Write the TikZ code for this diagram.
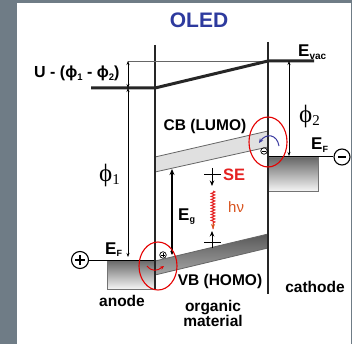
\documentclass[tikz,border=0pt]{standalone}
\usepackage{fontspec}
\setmainfont{Liberation Sans}
\newfontfamily\phifont{Liberation Serif}
\usetikzlibrary{decorations.pathmorphing,arrows.meta}
\definecolor{framegray}{HTML}{6F7C86}
\definecolor{oledblue}{HTML}{2D3A9E}
\definecolor{sered}{HTML}{E52222}
\definecolor{hnuorange}{HTML}{D9531E}
\definecolor{spinblue}{HTML}{3A3AA0}
\newcommand\sbs[2][9]{\raisebox{-2.5pt}{\fontsize{#1}{#1}\selectfont #2}}
\tikzset{
  lbl/.style={font=\bfseries\fontsize{15.5}{16}\selectfont, inner sep=0pt, anchor=base},
  elbl/.style={font=\bfseries\fontsize{17}{17}\selectfont, inner sep=0pt, anchor=base west},
  philbl/.style={font=\phifont\fontsize{25}{25}\selectfont, inner sep=0pt, anchor=base west},
  iface/.style={line width=1.4pt, black!85},
  vac/.style={line width=3pt, black!85},
  dimarr/.style={line width=0.7pt, {Stealth[length=4pt,width=3pt]}-{Stealth[length=4pt,width=3pt]}},
  ring/.style={draw=red!90!black, line width=1.1pt},
  charge/.style={draw, line width=0.7pt, circle, inner sep=0pt, minimum size=6.5pt},
  bigcharge/.style={draw, line width=1.1pt, circle, inner sep=0pt, minimum size=17pt, fill=white},
}
\begin{document}
\begin{tikzpicture}[x=1pt,y=-1pt]
\useasboundingbox (0,0) rectangle (352,344);
\fill[framegray] (0,0) rectangle (352,344);
\fill[white] (17,3) rectangle (350.5,344);

% title
\node[font=\bfseries\fontsize{21}{21}\selectfont, text=oledblue, inner sep=0pt, anchor=base] (title) at (199,28) {OLED};

% coordinates
\coordinate (aL) at (155,45);  \coordinate (aB) at (155,290);
\coordinate (cT) at (268,42);  \coordinate (cB) at (268,294);
\coordinate (vacL0) at (91,88); \coordinate (vacL1) at (155,88);
\coordinate (vacR0) at (268,61); \coordinate (vacR1) at (314,61);
\coordinate (ref0) at (128,61);

% bands
\filldraw[fill=black!12, draw=black!60, line width=0.8pt]
  (155,157) -- (268,131) -- (268,147) -- (155,172) -- cycle;
\shade[top color=black!65, bottom color=black!35]
  (155,261) -- (268,234) -- (268,248) -- (155,275) -- cycle;
\draw[black!60, line width=0.8pt] (155,261) -- (268,234) -- (268,248) -- (155,275) -- cycle;

% anode and cathode metals
\shade[top color=black!60, bottom color=black!4] (107,260) rectangle (155,289);
\draw[black!55, line width=0.7pt] (107,260) rectangle (155,289);
\draw[line width=1pt] (107,260) -- (155,260);
\shade[top color=black!60, bottom color=black!4] (268,157) rectangle (318,191);
\draw[black!55, line width=0.7pt] (268,157) rectangle (318,191);
\draw[line width=1pt] (268,157) -- (318,157);

% interfaces
\draw[iface] (aL) -- (aB);
\draw[iface] (cT) -- (cB);

% vacuum level
\draw[black!60, line width=0.6pt] (ref0) -- (vacR0);
\draw[vac] (vacL0) -- (vacL1) -- (vacR0) -- (vacR1);

% dimension arrows
\coordinate (u0) at (128,61); \coordinate (u1) at (128,88); \coordinate (u2) at (128,257);
\draw[dimarr] (u0) -- (u1);
\draw[dimarr] (u1) -- (u2);
\coordinate (p0) at (289,61); \coordinate (p1) at (289,156);
\draw[dimarr] (p0) -- (p1);

% external contacts
\node[bigcharge] (plus) at (80,260) {};
\draw[line width=1.1pt] ([xshift=-5pt]plus.center) -- ([xshift=5pt]plus.center)
  ([yshift=-5pt]plus.center) -- ([yshift=5pt]plus.center);
\draw[line width=1pt] (plus.east) -- (107,260);
\node[bigcharge, minimum size=16pt] (minus) at (342,157) {};
\draw[line width=2pt] ([xshift=-4pt]minus.center) -- ([xshift=4pt]minus.center);
\draw[line width=1pt] (318,157) -- (minus.west);

% band gap arrow
\coordinate (g0) at (172,255); \coordinate (g1) at (172,169);
\draw[line width=1.2pt, {Stealth[length=4pt,width=3.5pt]}-{Stealth[length=6pt,width=5pt]}] (g0) -- (g1);

% spin-like levels
\coordinate (s0) at (212,168); \coordinate (s1) at (212,186);
\draw[line width=1pt] (204,175) -- (221,175);
\draw[line width=1pt, -{Stealth[length=5.5pt,width=4.5pt]}] (s0) -- (s1);
\coordinate (t0) at (212,248); \coordinate (t1) at (212,231);
\draw[line width=1pt] (204,242) -- (221,242);
\draw[line width=1pt, -{Stealth[length=5.5pt,width=4.5pt]}] (t0) -- (t1);

% photon
\coordinate (w0) at (213,191); \coordinate (w1) at (213,229);
\draw[sered, line width=1pt, decorate, decoration={snake, amplitude=1.8pt, segment length=3pt, post length=5pt}] (w0) -- (w1);
\draw[hnuorange, line width=1pt, -{Stealth[length=5pt,width=4pt]}] (213,223) -- (w1);

% injection rings
\draw[ring] (158,266) ellipse [x radius=19, y radius=24];
\draw[ring] (268,142) ellipse [x radius=19, y radius=25];
\draw[red!90!black, line width=0.9pt, -{Stealth[length=4pt,width=3.5pt]}]
  (147,266) .. controls (152,272) and (157,271) .. (164,266);
\draw[spinblue, line width=1pt, -{Stealth[length=4.5pt,width=4pt]}]
  (279,146) .. controls (277,134) and (266,133) .. (259,143);
\node[charge] (hole) at (163,255) {};
\draw[line width=0.6pt] ([xshift=-2.2pt]hole.center) -- ([xshift=2.2pt]hole.center)
  ([yshift=-2.2pt]hole.center) -- ([yshift=2.2pt]hole.center);
\node[charge] (elec) at (264,151) {};
\draw[line width=0.9pt] ([xshift=-2.2pt]elec.center) -- ([xshift=2.2pt]elec.center);

% labels
\node[lbl, anchor=base west, font=\bfseries\fontsize{16}{16}\selectfont] (ulab) at (34,78) {U - (ϕ\sbs[9.5]{1} - ϕ\sbs[9.5]{2})};
\node[philbl] (phi1) at (99,182) {ϕ\sbs[15]{1}};
\node[philbl] (phi2) at (299,123) {ϕ\sbs[15]{2}};
\node[elbl] (evac) at (298,57) {E\sbs[10]{vac}};
\node[elbl] (efa) at (105,254) {E\sbs[9]{F}};
\node[elbl] (efc) at (311,150) {E\sbs[9]{F}};
\node[elbl] (eg) at (178,220) {E\sbs[9]{g}};
\node[lbl] (cb) at (205,131) {CB (LUMO)};
\node[lbl] (vb) at (220,285) {VB (HOMO)};
\node[lbl, text=sered, anchor=base west, font=\bfseries\fontsize{16.5}{17}\selectfont] (se) at (223,181) {SE};
\node[inner sep=0pt, anchor=base west, text=hnuorange, font=\fontsize{15}{15}\selectfont] (hnu) at (228,212) {hν};
\node[lbl] (anode) at (122,306) {anode};
\node[lbl] (cathode) at (315,292) {cathode};
\node[lbl] (org) at (213,311) {organic};
\node[lbl] (mat) at (213,326) {material};
\end{tikzpicture}
\end{document}
